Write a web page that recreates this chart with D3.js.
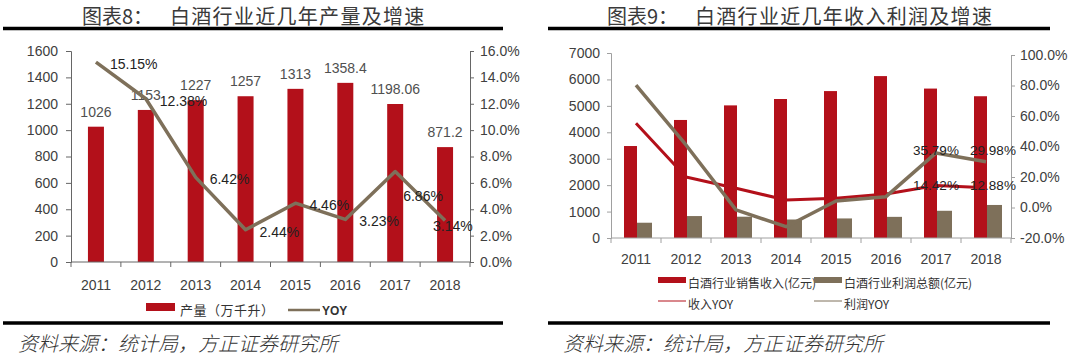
<!DOCTYPE html>
<html>
<head>
<meta charset="utf-8">
<script src="https://cdn.jsdelivr.net/npm/d3@7"></script>
<style>
  body { margin: 0; background: #fff; }
  svg text { font-family: "Liberation Sans", Arial, sans-serif; }
  .cjk { font-family: "Noto Sans CJK SC", sans-serif; }
</style>
</head>
<body>
<svg id="chart" width="1080" height="362"></svg>
<script>
// ---- data ----
var years = ["2011","2012","2013","2014","2015","2016","2017","2018"];

// chart 8
var output = [1026, 1153, 1227, 1257, 1313, 1358.4, 1198.06, 871.2];
var outputLabels = ["1026","1153","1227","1257","1313","1358.4","1198.06","871.2"];
var outputYoy = [15.15, 12.38, 6.42, 2.44, 4.46, 3.23, 6.86, 3.14];
var leftTicks = [0,200,400,600,800,1000,1200,1400,1600];
var leftPctTicks = [0,2,4,6,8,10,12,14,16];

// chart 9
var revenue = [3480, 4466, 5018, 5259, 5559, 6126, 5654, 5364];
var profit = [578, 830, 806, 700, 740, 800, 1030, 1250];
var revYoy = [55.2, 20.0, 12.6, 4.9, 6.0, 8.9, 14.42, 12.88];
var profitYoy = [80.3, 41.0, -1.6, -12.6, 4.3, 7.1, 35.79, 29.98];
var rightTicks = [0,1000,2000,3000,4000,5000,6000,7000];
var rightPctTicks = [-20,0,20,40,60,80,100];

var RED = "#b3101a", BROWN = "#7e705a";

var svg = d3.select("#chart");

function header(x0, x1, lab, title, tx1, tx2, yLine) {
  svg.append("text").attr("class","cjk").attr("x",tx1).attr("y",24)
    .style("font-size","20px").style("fill","#3a3a3a").text(lab);
  svg.append("text").attr("class","cjk").attr("x",tx2).attr("y",24)
    .style("font-size","20px").style("fill","#3a3a3a").style("letter-spacing","1.3px").text(title);
  svg.append("line").attr("x1",x0).attr("x2",x1).attr("y1",28.5).attr("y2",28.5)
    .style("stroke","#000").style("stroke-width",3.5);
  svg.append("line").attr("x1",x0).attr("x2",x1).attr("y1",yLine).attr("y2",yLine)
    .style("stroke","#000").style("stroke-width",3.5);
}
function footer(x) {
  svg.append("text").attr("class","cjk").attr("x",x).attr("y",351)
    .style("font-size","20px").style("font-style","italic").style("font-weight","300")
    .style("fill","#333").text("资料来源：统计局，方正证券研究所");
}

function styleAxis(g, col) {
  g.select(".domain").style("stroke",col);
  g.selectAll(".tick line").style("stroke",col);
  g.selectAll(".tick text").style("fill","#404040").style("font-family","Liberation Sans, Arial, sans-serif");
}

// ================= chart 8 =================
header(3, 503, "图表8：", "白酒行业近几年产量及增速", 82, 170, 323);

var x1 = d3.scaleBand().domain(years).range([71,470]);
var y1 = d3.scaleLinear().domain([0,1600]).range([262,51]);
var y1p = d3.scaleLinear().domain([0,16]).range([262,51]);

var ga = svg.append("g").attr("transform","translate(71,0)")
  .call(d3.axisLeft(y1).tickValues(leftTicks).tickSize(5).tickPadding(8).tickFormat(d3.format("d")));
ga.selectAll("text").style("font-size","14px");
styleAxis(ga, "#666");
var gb = svg.append("g").attr("transform","translate(470,0)")
  .call(d3.axisRight(y1p).tickValues(leftPctTicks).tickSize(4).tickPadding(6).tickFormat(function(d){return d.toFixed(1)+"%";}));
gb.selectAll("text").style("font-size","14px");
styleAxis(gb, "#666");

svg.append("g").selectAll("rect").data(years).enter().append("rect")
  .attr("x", function(d){ return x1(d) + x1.bandwidth()/2 - 8; })
  .attr("y", function(d,i){ return y1(output[i]); })
  .attr("width", 16)
  .attr("height", function(d,i){ return 262 - y1(output[i]); })
  .style("fill", RED);

// x axis
svg.append("line").attr("x1",71).attr("x2",470).attr("y1",262).attr("y2",262).style("stroke","#666");
svg.append("g").selectAll("line").data(years.concat(["end"])).enter().append("line")
  .attr("x1", function(d,i){ return 71 + i*x1.bandwidth(); })
  .attr("x2", function(d,i){ return 71 + i*x1.bandwidth(); })
  .attr("y1",262).attr("y2",267).style("stroke","#666");
svg.append("g").selectAll("text").data(years).enter().append("text")
  .attr("x", function(d){ return x1(d) + x1.bandwidth()/2; })
  .attr("y", 290).attr("text-anchor","middle")
  .style("font-size","14px").style("fill","#404040").text(function(d){return d;});

// bar labels
svg.append("g").selectAll("text").data(years).enter().append("text")
  .attr("x", function(d){ return x1(d) + x1.bandwidth()/2; })
  .attr("y", function(d,i){ return y1(output[i]) - 10; })
  .attr("text-anchor","middle")
  .style("font-size","14px").style("fill","#505050")
  .text(function(d,i){ return outputLabels[i]; });

var line1 = d3.line()
  .x(function(d,i){ return x1(years[i]) + x1.bandwidth()/2; })
  .y(function(d){ return y1p(d); });
svg.append("path").datum(outputYoy).attr("d", line1)
  .style("fill","none").style("stroke",BROWN).style("stroke-width",3.5).style("stroke-linejoin","round");

var yoyOff = {"2017":[8,25], "2018":[-12,6]};
svg.append("g").selectAll("text").data(years).enter().append("text")
  .attr("x", function(d){ return x1(d) + x1.bandwidth()/2 + (yoyOff[d] ? yoyOff[d][0] : 14); })
  .attr("y", function(d,i){ return y1p(outputYoy[i]) + (yoyOff[d] ? yoyOff[d][1] : 2); })
  .attr("dy","0.35em")
  .style("font-size","14px").style("fill","#222")
  .text(function(d,i){ return outputYoy[i].toFixed(2) + "%"; });

// legend
svg.append("rect").attr("x",146).attr("y",303).attr("width",29).attr("height",8).style("fill",RED);
svg.append("text").attr("class","cjk").attr("x",180).attr("y",315)
  .style("font-size","13px").style("fill","#333").style("letter-spacing","0.5px").text("产量（万千升）");
svg.append("line").attr("x1",288).attr("x2",320).attr("y1",310).attr("y2",310)
  .style("stroke",BROWN).style("stroke-width",2.5);
svg.append("text").attr("x",322).attr("y",315)
  .style("font-size","12px").style("font-weight","bold").style("fill","#333").text("YOY");

footer(18);

// ================= chart 9 =================
header(548, 1050, "图表9：", "白酒行业近几年收入利润及增速", 607, 695, 323);

var x2 = d3.scaleBand().domain(years).range([611,1011]);
var y2 = d3.scaleLinear().domain([0,7000]).range([238,53]);
var y2p = d3.scaleLinear().domain([-20,100]).range([238,55]);

var gc = svg.append("g").attr("transform","translate(611,0)")
  .call(d3.axisLeft(y2).tickValues(rightTicks).tickSize(4).tickPadding(7).tickFormat(d3.format("d")));
gc.selectAll("text").style("font-size","14px");
styleAxis(gc, "#a0a0a0");
var gd = svg.append("g").attr("transform","translate(1011,0)")
  .call(d3.axisRight(y2p).tickValues(rightPctTicks).tickSize(4).tickPadding(5).tickFormat(function(d){return d.toFixed(1)+"%";}));
gd.selectAll("text").style("font-size","14px");
styleAxis(gd, "#a0a0a0");

svg.append("g").selectAll("rect").data(years).enter().append("rect")
  .attr("x", function(d){ return x2(d) + x2.bandwidth()/2 - 12; })
  .attr("y", function(d,i){ return y2(revenue[i]); })
  .attr("width", 13)
  .attr("height", function(d,i){ return 238 - y2(revenue[i]); })
  .style("fill", RED);
svg.append("g").selectAll("rect").data(years).enter().append("rect")
  .attr("x", function(d){ return x2(d) + x2.bandwidth()/2 + 1; })
  .attr("y", function(d,i){ return y2(profit[i]); })
  .attr("width", 15)
  .attr("height", function(d,i){ return 238 - y2(profit[i]); })
  .style("fill", BROWN);

svg.append("line").attr("x1",611).attr("x2",1011).attr("y1",238).attr("y2",238).style("stroke","#a0a0a0");
svg.append("g").selectAll("line").data(years.concat(["end"])).enter().append("line")
  .attr("x1", function(d,i){ return 611 + i*x2.bandwidth(); })
  .attr("x2", function(d,i){ return 611 + i*x2.bandwidth(); })
  .attr("y1",238).attr("y2",243).style("stroke","#a0a0a0");
svg.append("g").selectAll("text").data(years).enter().append("text")
  .attr("x", function(d){ return x2(d) + x2.bandwidth()/2; })
  .attr("y", 264).attr("text-anchor","middle")
  .style("font-size","14px").style("fill","#404040").text(function(d){return d;});

var line2 = d3.line()
  .x(function(d,i){ return x2(years[i]) + x2.bandwidth()/2; })
  .y(function(d){ return y2p(d); });
svg.append("path").datum(revYoy).attr("d", line2)
  .style("fill","none").style("stroke",RED).style("stroke-width",3).style("stroke-linejoin","round");
svg.append("path").datum(profitYoy).attr("d", line2)
  .style("fill","none").style("stroke",BROWN).style("stroke-width",3.5).style("stroke-linejoin","round");

// labels on last two points
var labelled = [6, 7];
var profOff = [[0,-3],[7,-12]], revOff = [[0,0],[7,-3]];
labelled.forEach(function(i, k){
  var cx = x2(years[i]) + x2.bandwidth()/2;
  svg.append("text").attr("x", cx + profOff[k][0]).attr("y", y2p(profitYoy[i]) + profOff[k][1])
    .attr("dy","0.35em").attr("text-anchor","middle")
    .style("font-size","13.5px").style("fill","#222").text(profitYoy[i].toFixed(2) + "%");
  svg.append("text").attr("x", cx + revOff[k][0]).attr("y", y2p(revYoy[i]) + revOff[k][1])
    .attr("dy","0.35em").attr("text-anchor","middle")
    .style("font-size","13.5px").style("fill","#222").text(revYoy[i].toFixed(2) + "%");
});

// legend
var leg = [
  {x:658, y:284, kind:"rect", col:RED, text:"白酒行业销售收入(亿元)"},
  {x:814, y:284, kind:"rect", col:BROWN, text:"白酒行业利润总额(亿元)"},
  {x:658, y:305, kind:"line", col:RED, text:"收入YOY"},
  {x:814, y:305, kind:"line", col:BROWN, text:"利润YOY"}
];
leg.forEach(function(l){
  if (l.kind == "rect")
    svg.append("rect").attr("x",l.x).attr("y",l.y-7).attr("width",28).attr("height",6).style("fill",l.col);
  else
    svg.append("line").attr("x1",l.x).attr("x2",l.x+28).attr("y1",l.y-4).attr("y2",l.y-4)
      .style("stroke",l.col).style("stroke-width",1);
  svg.append("text").attr("class","cjk").attr("x",l.x+30).attr("y",l.y+4)
    .style("font-size","12px").style("fill","#333").text(l.text);
});

footer(563);
</script>
</body>
</html>
